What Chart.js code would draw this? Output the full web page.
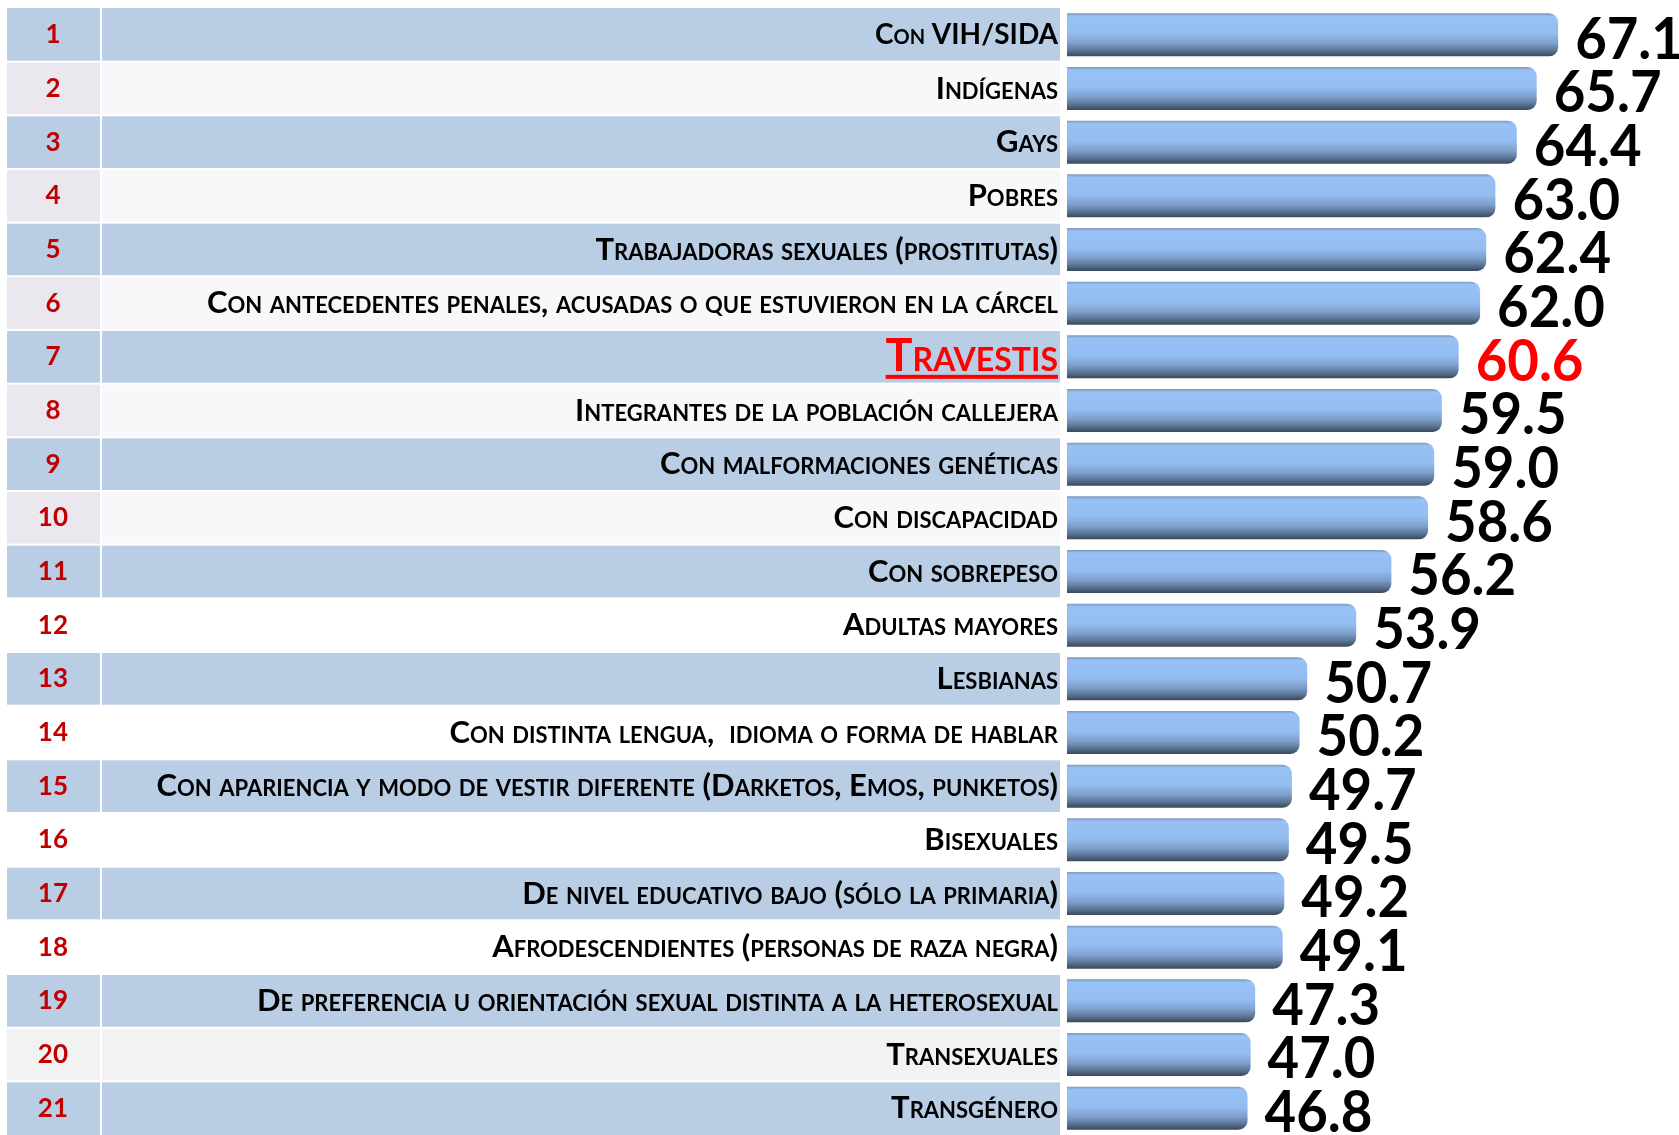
<!DOCTYPE html>
<html lang="es">
<head>
<meta charset="utf-8">
<title>Grupos discriminados</title>
<script src="https://cdn.jsdelivr.net/npm/chart.js@4.4.1/dist/chart.umd.min.js"></script>
<style>
  html, body { margin: 0; padding: 0; background: #fff; }
  #wrap { width: 1679px; height: 1135px; }
</style>
</head>
<body>
<div id="wrap"><canvas id="myChart" width="1679" height="1135"></canvas></div>
<script>
const ranks = ['1', '2', '3', '4', '5', '6', '7', '8', '9', '10', '11',
  '12', '13', '14', '15', '16', '17', '18', '19', '20', '21'];

const categories = [
  'Con VIH/SIDA',
  'Indígenas',
  'Gays',
  'Pobres',
  'Trabajadoras sexuales (prostitutas)',
  'Con antecedentes penales, acusadas o que estuvieron en la cárcel',
  'Travestis',
  'Integrantes de la población callejera',
  'Con malformaciones genéticas',
  'Con discapacidad',
  'Con sobrepeso',
  'Adultas mayores',
  'Lesbianas',
  'Con distinta lengua,  idioma o forma de hablar',
  'Con apariencia y modo de vestir diferente (Darketos, Emos, punketos)',
  'Bisexuales',
  'De nivel educativo bajo (sólo la primaria)',
  'Afrodescendientes (personas de raza negra)',
  'De preferencia u orientación sexual distinta a la heterosexual',
  'Transexuales',
  'Transgénero'
];

const values = [67.1, 65.7, 64.4, 63.0, 62.4, 62.0, 60.6, 59.5, 59.0, 58.6, 56.2,
  53.9, 50.7, 50.2, 49.7, 49.5, 49.2, 49.1, 47.3, 47.0, 46.8];

// fila resaltada (Travestis)
const highlight = 6;

/**
 * rowFills
 * colores de la celda del número y de la celda del texto
 */
function rowFills(i) {
  if (i % 2 === 0) return ['#B9CDE5', '#B9CDE5'];
  if (i < 10) return ['#EBE7EF', '#F8F8FA'];
  if (i < 18) return ['#FFFFFF', '#FFFFFF'];
  return ['#F2F2F2', '#F2F2F2'];
}

/**
 * barFill
 * degradado vertical de cada barra
 */
function barFill(context) {
  const chart = context.chart;
  const y = chart.scales.y;
  if (!y || context.dataIndex === undefined) return '#8DB4E2';
  const mid = y.getPixelForValue(context.dataIndex);
  const half = y.height / categories.length * 0.8 / 2;
  if (!isFinite(mid) || !isFinite(half)) return '#8DB4E2';
  const g = chart.ctx.createLinearGradient(0, mid - half, 0, mid + half);
  g.addColorStop(0, '#7F97B8');
  g.addColorStop(0.07, '#98C1F5');
  g.addColorStop(0.48, '#93BCF1');
  g.addColorStop(0.7, '#7E9FCB');
  g.addColorStop(0.87, '#5A7393');
  g.addColorStop(1, '#3A4859');
  return g;
}

// quita el relleno vertical que el eje añade por el tamaño de las etiquetas
function fixAxis(width) {
  return (scale) => {
    scale.width = width;
    scale.paddingTop = 0;
    scale.paddingBottom = 0;
  };
}

// fondo tipo tabla
const tablePlugin = {
  id: 'table',
  beforeDraw(chart) {
    const { ctx, chartArea } = chart;
    const y = chart.scales.y;
    const rank = chart.scales.rank;
    const pitch = y.height / categories.length;
    const right = chartArea.left - 7;
    ctx.save();
    categories.forEach((c, i) => {
      const top = y.getPixelForValue(i) - pitch / 2;
      const fills = rowFills(i);
      ctx.fillStyle = fills[0];
      ctx.fillRect(rank.left, top, rank.right - rank.left, pitch);
      ctx.fillStyle = fills[1];
      ctx.fillRect(rank.right, top, right - rank.right, pitch);
    });
    ctx.fillStyle = '#FFFFFF';
    categories.forEach((c, i) => {
      if (i === 0) return;
      const top = y.getPixelForValue(i) - pitch / 2;
      ctx.fillRect(rank.left, top - 1, right - rank.left, 2);
    });
    ctx.fillRect(rank.right - 1, y.top, 2, y.bottom - y.top);
    ctx.restore();
  },
  afterDraw(chart) {
    // subrayado de la fila resaltada
    const ctx = chart.ctx;
    const y = chart.scales.y;
    const t = y.getPixelForValue(highlight);
    ctx.save();
    ctx.font = 'small-caps bold 45px Lato';
    const w = ctx.measureText(categories[highlight]).width;
    const right = y.right - y.options.ticks.padding;
    ctx.fillStyle = '#FF0000';
    ctx.fillRect(right - w, t + 18, w, 4);
    ctx.restore();
  }
};

// etiquetas de valor
const valuePlugin = {
  id: 'values',
  afterDatasetsDraw(chart) {
    const ctx = chart.ctx;
    const meta = chart.getDatasetMeta(0);
    meta.data.forEach((bar, i) => {
      ctx.save();
      ctx.font = 'bold 58px Lato';
      ctx.textBaseline = 'middle';
      ctx.textAlign = 'left';
      ctx.fillStyle = i === highlight ? '#FF0000' : '#000000';
      ctx.translate(bar.x + 17, bar.y + 5);
      ctx.scale(0.94, 1);
      ctx.fillText(values[i].toFixed(1), 0, 0);
      ctx.restore();
    });
  }
};

const ctx = document.getElementById('myChart');
const myChart = new Chart(ctx, {
  type: 'bar',
  data: {
    labels: categories,
    datasets: [{
      data: values,
      base: 35,
      clip: 0,
      backgroundColor: barFill,
      borderRadius: 9,
      borderSkipped: 'start',
      barPercentage: 0.8,
      categoryPercentage: 1
    }]
  },
  options: {
    indexAxis: 'y',
    responsive: false,
    animation: false,
    layout: { padding: { left: 7, top: 8, right: 0, bottom: 0 } },
    plugins: {
      legend: { display: false },
      tooltip: { enabled: false }
    },
    scales: {
      x: { min: 35, max: 75, display: false },
      y: {
        weight: 0,
        grid: { display: false, drawTicks: false },
        border: { display: false },
        ticks: {
          autoSkip: false,
          padding: 9,
          color: (c) => c.index === highlight ? '#FF0000' : '#000000',
          font: (c) => ({
            family: 'Lato',
            weight: 'small-caps bold',
            size: c.index === highlight ? 45 : (c.index === 0 ? 28 : 31)
          })
        },
        afterFit: fixAxis(966)
      },
      rank: {
        type: 'category',
        labels: ranks,
        position: 'left',
        offset: true,
        weight: 1,
        grid: { display: false, drawTicks: false },
        border: { display: false },
        ticks: {
          autoSkip: false,
          crossAlign: 'center',
          padding: 33,
          color: '#C00000',
          font: { family: 'Lato', weight: 'bold', size: 26 }
        },
        afterFit: fixAxis(94)
      }
    }
  },
  plugins: [tablePlugin, valuePlugin]
});
</script>
</body>
</html>
